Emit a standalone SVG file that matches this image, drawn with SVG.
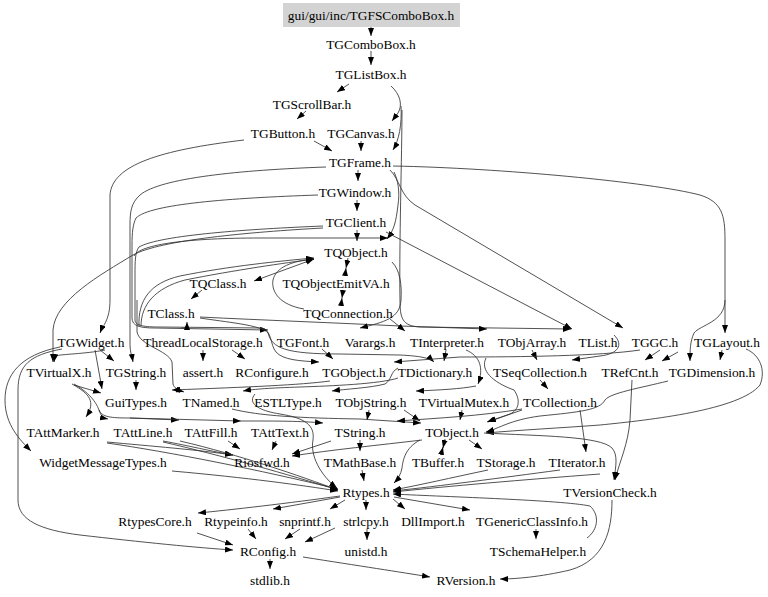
<svg xmlns="http://www.w3.org/2000/svg" width="768" height="597" viewBox="0 0 768 597">
<style>
text{font-family:"Liberation Serif","Times New Roman",serif;font-size:13.4px;text-anchor:middle;fill:#000}
#connectors path{fill:none;stroke:#333;stroke-width:0.85;marker-end:url(#a)}
#connectors path.b{marker-start:url(#a)}
</style>
<defs>
<marker id="a" viewBox="0 0 8 6" refX="8" refY="3" markerWidth="8" markerHeight="6" markerUnits="userSpaceOnUse" orient="auto-start-reverse"><path d="M0,0 L8,3 L0,6 z" fill="#000"/></marker>
</defs>
<rect width="768" height="597" fill="#fff"/>
<g id="connectors">
<path d="M371,27 L371,36"/>
<path d="M371,51 L371,65"/>
<path d="M349,84 L337,92"/>
<path d="M391,86 C400,94 403,105 398,113 L392,121"/>
<path d="M401,106 C402,125 399,140 393,150"/>
<path d="M402,110 C402,150 399,250 400,300 C400,318 402,326 420,327 L571,329"/>
<path d="M306,111 L297,119"/>
<path d="M314,141 L332,151"/>
<path d="M361,141 L361,151"/>
<path d="M244,140 C160,150 112,165 110,195 L110,300 C110,320 103,325 100,333"/>
<path d="M358,170 L358,181"/>
<path d="M326,167 C240,170 160,178 140,195 C131,203 130,212 130,225 L130,345 C130,352 132,356 133,362"/>
<path d="M393,166 C500,168 650,182 700,195 C722,202 725,215 725,240 L725,333"/>
<path d="M725,300 C725,322 700,325 694,333 C690,342 690,350 690,361"/>
<path d="M390,170 C400,180 400,195 415,205 L623,328"/>
<path d="M394,172 C398,180 400,192 398,205 C396,222 394,230 387,239"/>
<path d="M357,200 L357,211"/>
<path d="M318,195 C230,198 150,204 136,218 C133,224 132,232 132,245 L132,318 C132,326 140,328 155,328 L268,330"/>
<path d="M357,230 L357,241"/>
<path d="M386,232 L572,329"/>
<path d="M323,228 C250,232 160,240 133,255 C100,275 55,300 53,330 L53,362"/>
<path d="M323,226 C250,229 160,235 139,247 C135,252 135,262 135,275 L135,320 C135,326 145,327 160,327 L262,328 C272,330 270,345 276,352 C283,360 300,361 319,362"/>
<path d="M137,300 L137,332 C140,346 168,350 172,362 L173,384 C174,388 178,390 184,392"/>
<path d="M330,381 C300,385 250,387 172,390"/>
<path d="M134,256 C140,244 190,238 260,238 L388,238"/>
<path d="M139,326 C138,300 150,283 180,276 C230,266 280,261 314,258"/>
<path d="M141,326 C141,305 155,288 185,280 C235,270 285,263 314,259"/>
<path class="b" d="M254,281 L314,259"/>
<path d="M348,258 L346,268"/>
<path d="M345,276 L346,268"/>
<path d="M343,290 L342,298"/>
<path d="M341,306 L342,298"/>
<path d="M304,309 C280,305 271,292 273,280 C276,267 292,261 314,259"/>
<path d="M202,290 L191,299"/>
<path d="M200,317 C260,320 340,323 400,326 L487,329"/>
<path d="M390,319 L405,331"/>
<path d="M392,262 C400,270 402,285 401,300 C400,318 385,322 360,328"/>
<path d="M181,328 C185,328 187,327 187,322"/>
<path d="M200,318 C225,322 262,325 268,333 C272,348 285,354 340,354 L400,355 C420,356 430,358 434,362"/>
<path d="M203,350 L203,361"/>
<path d="M232,350 L245,359"/>
<path d="M322,349 L333,359"/>
<path d="M105,350 C85,354 62,354 55,356 L54,362"/>
<path d="M100,350 L114,361"/>
<path d="M95,350 L102,389"/>
<path d="M74,385 L101,393"/>
<path d="M136,380 L136,390"/>
<path d="M446,350 L444,361"/>
<path d="M532,350 L537,360"/>
<path d="M614,335 C624,345 618,354 600,356 L572,360"/>
<path d="M640,350 C600,356 520,357 460,357 L394,362"/>
<path d="M660,350 L645,360"/>
<path d="M722,350 L720,360"/>
<path d="M678,352 L662,361"/>
<path d="M398,378 C380,384 330,386 300,387 C270,388 255,389 243,391"/>
<path d="M398,368 C390,372 392,380 385,384 C370,388 345,389 332,391"/>
<path d="M466,350 C480,356 484,368 478,384"/>
<path d="M476,386 C460,389 440,390 416,391"/>
<path d="M540,380 L548,389"/>
<path d="M486,358 C480,370 492,382 514,390 C521,400 519,410 510,414 L488,422"/>
<path d="M369,410 L367,420"/>
<path d="M404,410 L420,421"/>
<path d="M462,410 L460,420"/>
<path d="M580,410 L586,452"/>
<path d="M522,410 C505,416 495,419 487,422"/>
<path d="M668,381 C640,388 610,393 605,400 C600,410 580,412 540,416 C510,420 500,428 486,432"/>
<path d="M746,349 C760,355 766,370 760,385 C740,410 650,420 600,425 C560,428 520,430 486,433"/>
<path d="M632,380 L630,420 C628,445 620,460 615,480"/>
<path d="M484,433 C540,436 600,436 612,448 C618,455 616,465 614,480"/>
<path d="M72,384 C90,394 96,402 86,417"/>
<path d="M74,384 C92,394 97,405 99,410 C101,416 103,418 108,419"/>
<path d="M99,410 C102,417 110,418 130,418 L179,420"/>
<path d="M130,418 L241,421"/>
<path d="M241,421 C280,421 300,421 323,423"/>
<path d="M232,409 C260,416 300,418 360,419 L421,423"/>
<path d="M522,409 C480,416 440,418 397,421"/>
<path d="M255,394 C248,402 255,410 280,414 C305,418 315,425 313,440 C310,455 320,475 337,488"/>
<path d="M445,439 L443,448"/>
<path d="M441,455 L443,447"/>
<path d="M469,440 L482,449"/>
<path d="M420,440 C405,448 403,460 402,468 C401,474 398,479 394,483"/>
<path d="M422,440 C380,445 330,450 292,456"/>
<path d="M331,441 L292,454"/>
<path d="M360,440 L360,451"/>
<path d="M362,470 L364,481"/>
<path d="M107,442 C150,446 200,450 233,455"/>
<path d="M107,443 C170,452 260,470 338,489"/>
<path d="M163,441 C190,446 210,451 233,455"/>
<path d="M163,442 C220,455 290,475 338,490"/>
<path d="M228,441 L240,449"/>
<path d="M180,441 C240,455 300,476 338,490"/>
<path d="M276,441 L272,450"/>
<path d="M172,471 C250,478 300,485 338,491"/>
<path d="M488,470 C450,478 420,485 393,490"/>
<path d="M560,470 C500,478 440,486 393,491"/>
<path d="M600,474 C520,480 450,486 393,492"/>
<path d="M587,538 C598,530 600,515 590,506 C560,500 450,497 393,494"/>
<path d="M60,347 C20,355 5,375 5,400 C5,425 20,440 31,451"/>
<path d="M62,349 C30,355 18,365 18,390 L18,500 C18,520 40,530 80,535 C140,542 200,548 233,550"/>
<path d="M340,496 C290,503 230,510 198,513"/>
<path d="M340,497 L273,509"/>
<path d="M345,500 L330,509"/>
<path d="M366,500 L366,510"/>
<path d="M393,499 L405,509"/>
<path d="M394,497 L470,510"/>
<path d="M536,529 L536,539"/>
<path d="M197,533 L233,545"/>
<path d="M248,529 L256,539"/>
<path d="M300,529 L285,539"/>
<path d="M335,528 L305,542"/>
<path d="M367,529 L367,540"/>
<path d="M270,559 L270,569"/>
<path d="M303,557 C360,566 400,572 430,577"/>
<path d="M612,500 C612,530 605,560 570,570 C540,577 515,579 500,579"/>
</g>
<g id="n0"><rect x="283" y="3" width="177" height="24" fill="#d3d3d3"/><text x="371" y="19.5">gui/gui/inc/TGFSComboBox.h</text></g>
<g id="n1"><text x="371" y="48.5">TGComboBox.h</text></g>
<g id="n2"><text x="371" y="78.5">TGListBox.h</text></g>
<g id="n3"><text x="312" y="108.5">TGScrollBar.h</text></g>
<g id="n4"><text x="283" y="137.5">TGButton.h</text></g>
<g id="n5"><text x="361" y="137.5">TGCanvas.h</text></g>
<g id="n6"><text x="360" y="166.5">TGFrame.h</text></g>
<g id="n7"><text x="355" y="196.5">TGWindow.h</text></g>
<g id="n8"><text x="356" y="226.5">TGClient.h</text></g>
<g id="n9"><text x="356" y="256.5">TQObject.h</text></g>
<g id="n10"><text x="218" y="287.5">TQClass.h</text></g>
<g id="n11"><text x="336" y="287.5">TQObjectEmitVA.h</text></g>
<g id="n12"><text x="171" y="317.5">TClass.h</text></g>
<g id="n13"><text x="348" y="317.5">TQConnection.h</text></g>
<g id="n14"><text x="91" y="346.5">TGWidget.h</text></g>
<g id="n15"><text x="203" y="346.5">ThreadLocalStorage.h</text></g>
<g id="n16"><text x="303" y="346.5">TGFont.h</text></g>
<g id="n17"><text x="370" y="346.5">Varargs.h</text></g>
<g id="n18"><text x="447" y="346.5">TInterpreter.h</text></g>
<g id="n19"><text x="532" y="346.5">TObjArray.h</text></g>
<g id="n20"><text x="598" y="346.5">TList.h</text></g>
<g id="n21"><text x="655" y="346.5">TGGC.h</text></g>
<g id="n22"><text x="727" y="346.5">TGLayout.h</text></g>
<g id="n23"><text x="59" y="376.5">TVirtualX.h</text></g>
<g id="n24"><text x="136" y="376.5">TGString.h</text></g>
<g id="n25"><text x="203" y="376.5">assert.h</text></g>
<g id="n26"><text x="272" y="376.5">RConfigure.h</text></g>
<g id="n27"><text x="354" y="376.5">TGObject.h</text></g>
<g id="n28"><text x="435" y="376.5">TDictionary.h</text></g>
<g id="n29"><text x="540" y="376.5">TSeqCollection.h</text></g>
<g id="n30"><text x="630" y="376.5">TRefCnt.h</text></g>
<g id="n31"><text x="712" y="376.5">TGDimension.h</text></g>
<g id="n32"><text x="136" y="406.5">GuiTypes.h</text></g>
<g id="n33"><text x="211" y="406.5">TNamed.h</text></g>
<g id="n34"><text x="288" y="406.5">ESTLType.h</text></g>
<g id="n35"><text x="371" y="406.5">TObjString.h</text></g>
<g id="n36"><text x="464" y="406.5">TVirtualMutex.h</text></g>
<g id="n37"><text x="560" y="406.5">TCollection.h</text></g>
<g id="n38"><text x="63" y="436.5">TAttMarker.h</text></g>
<g id="n39"><text x="143" y="436.5">TAttLine.h</text></g>
<g id="n40"><text x="211" y="436.5">TAttFill.h</text></g>
<g id="n41"><text x="280" y="436.5">TAttText.h</text></g>
<g id="n42"><text x="360" y="436.5">TString.h</text></g>
<g id="n43"><text x="452" y="436.5">TObject.h</text></g>
<g id="n44"><text x="103" y="466.5">WidgetMessageTypes.h</text></g>
<g id="n45"><text x="262" y="466.5">Riosfwd.h</text></g>
<g id="n46"><text x="360" y="466.5">TMathBase.h</text></g>
<g id="n47"><text x="438" y="466.5">TBuffer.h</text></g>
<g id="n48"><text x="506" y="466.5">TStorage.h</text></g>
<g id="n49"><text x="577" y="466.5">TIterator.h</text></g>
<g id="n50"><text x="366" y="496.5">Rtypes.h</text></g>
<g id="n51"><text x="610" y="496.5">TVersionCheck.h</text></g>
<g id="n52"><text x="155" y="525.5">RtypesCore.h</text></g>
<g id="n53"><text x="236" y="525.5">Rtypeinfo.h</text></g>
<g id="n54"><text x="305" y="525.5">snprintf.h</text></g>
<g id="n55"><text x="366" y="525.5">strlcpy.h</text></g>
<g id="n56"><text x="433" y="525.5">DllImport.h</text></g>
<g id="n57"><text x="532" y="525.5">TGenericClassInfo.h</text></g>
<g id="n58"><text x="268" y="555.5">RConfig.h</text></g>
<g id="n59"><text x="366" y="555.5">unistd.h</text></g>
<g id="n60"><text x="538" y="555.5">TSchemaHelper.h</text></g>
<g id="n61"><text x="270" y="584.5">stdlib.h</text></g>
<g id="n62"><text x="466" y="584.5">RVersion.h</text></g>
</svg>
